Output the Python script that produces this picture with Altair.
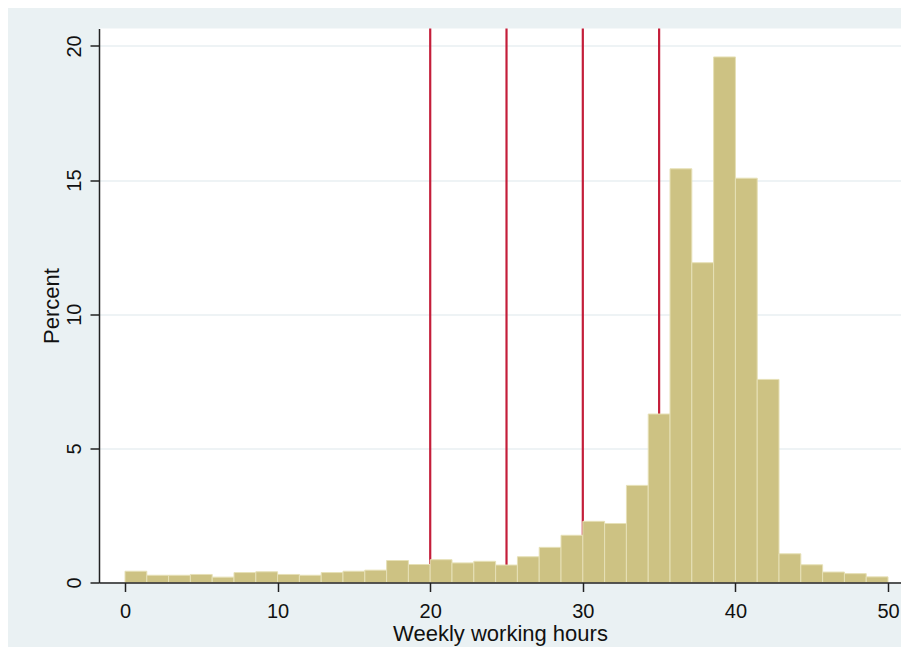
import altair as alt
import pandas as pd

# Histogram: 35 bins over 0-50 weekly working hours, percent per bin
n_bins = 35
hours_min = 0
hours_max = 50
percent = [0.42, 0.27, 0.27, 0.30, 0.20, 0.37, 0.40, 0.30, 0.27, 0.37,
           0.42, 0.46, 0.82, 0.67, 0.85, 0.73, 0.79, 0.65, 0.96, 1.31,
           1.76, 2.28, 2.20, 3.62, 6.28, 15.42, 11.92, 19.59, 15.07, 7.57,
           1.07, 0.66, 0.39, 0.33, 0.21]
cutoffs = [20, 25, 30, 35]
x_ticks = [0, 10, 20, 30, 40, 50]
y_ticks = [0, 5, 10, 15, 20]

bw = (hours_max - hours_min) / n_bins
bars = pd.DataFrame({
    "start": [hours_min + i * bw for i in range(n_bins)],
    "end": [hours_min + (i + 1) * bw for i in range(n_bins)],
    "percent": percent,
})
lines = pd.DataFrame({"hours": cutoffs})

W, H = 802, 554
xscale = alt.Scale(domain=[-1.704, 50.85], nice=False, zero=False)
yscale = alt.Scale(domain=[0, 20.65], nice=False)

FONT = "Liberation Sans"

rules = alt.Chart(lines).mark_rule(color="#C41E3A", strokeWidth=2.2).encode(
    x=alt.X("hours:Q", scale=xscale),
    y=alt.value(0),
    y2=alt.value(H),
)

hist = alt.Chart(bars).mark_rect(
    color="#CDC283", stroke="#E6E0B6", strokeWidth=1
).encode(
    x=alt.X("start:Q", scale=xscale,
            axis=alt.Axis(values=x_ticks, title="Weekly working hours",
                          grid=False, tickSize=9, tickWidth=1.5,
                          tickColor="#222", domainColor="#222",
                          domainWidth=1.5, labelFontSize=20,
                          labelPadding=10, labelColor="#111",
                          labelFont=FONT, titleFont=FONT,
                          titleFontSize=22, titleFontWeight="normal",
                          titleColor="#111", titleY=58,
                          titleBaseline="alphabetic", zindex=1)),
    x2="end:Q",
    y=alt.Y("percent:Q", scale=yscale,
            axis=alt.Axis(values=y_ticks, title="Percent", grid=True,
                          gridColor="#E8EFF2", gridWidth=1.5,
                          tickSize=9, tickWidth=1.5, tickColor="#222",
                          domainColor="#222", domainWidth=1.5,
                          labelAngle=270, labelAlign="center",
                          labelBaseline="alphabetic", labelPadding=10,
                          labelFontSize=20, labelColor="#111",
                          labelFont=FONT, titleFont=FONT,
                          titleFontSize=22, titleFontWeight="normal",
                          titleColor="#111", titleAngle=270,
                          titleAlign="center", titleBaseline="alphabetic",
                          titleX=-41, titleY=H / 2, zindex=0)),
    y2=alt.datum(0),
)

chart = alt.layer(rules, hist).properties(
    width=W, height=H,
    autosize=alt.AutoSizeParams(type="none"),
    padding={"left": 91, "top": 20.5, "right": 0, "bottom": 64},
    background="#EAF1F3",
).configure_view(fill="white", stroke=None)

chart.save("out.html", embed_options={"renderer": "svg", "actions": False})
